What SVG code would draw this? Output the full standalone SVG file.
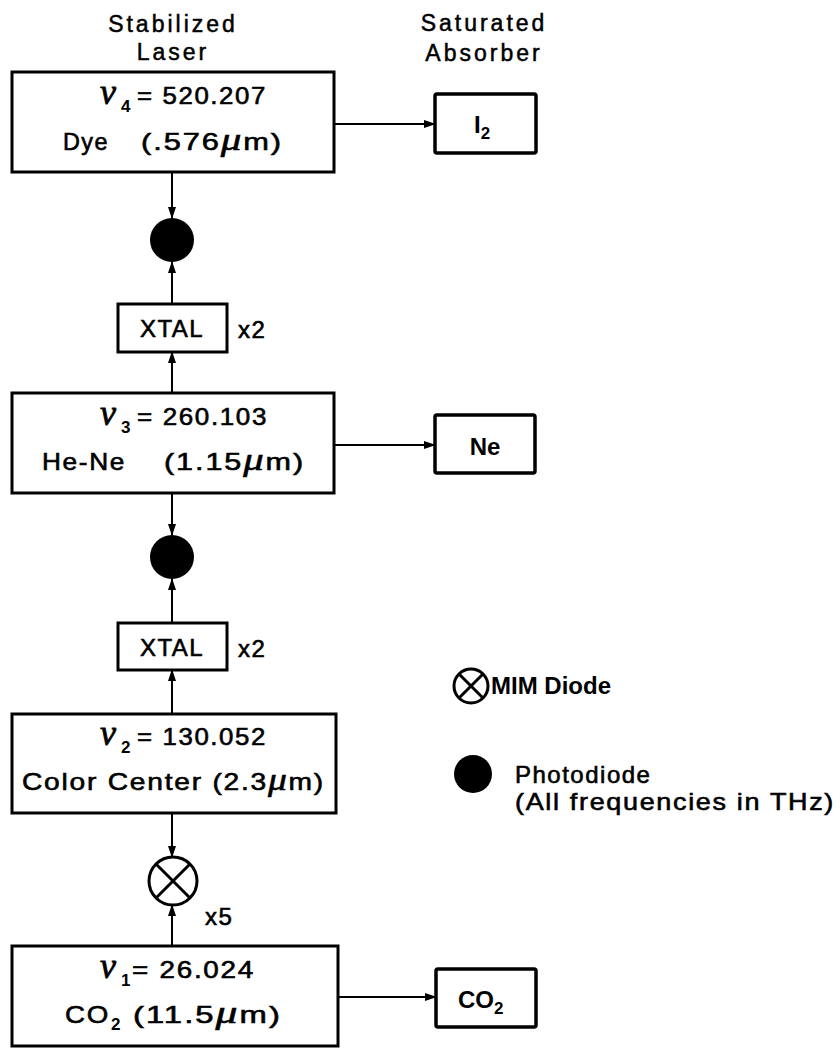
<svg xmlns="http://www.w3.org/2000/svg" width="840" height="1048" viewBox="0 0 840 1048">
<style>
  .t { font-family: "Liberation Sans", Arial, sans-serif; font-size: 24px; fill: #000; stroke: #000; stroke-width: 0.6px; letter-spacing: 1.5px; }
  .h { font-family: "Liberation Sans", Arial, sans-serif; font-size: 23px; fill: #000; stroke: #000; stroke-width: 0.5px; letter-spacing: 3px; }
  .b { font-family: "Liberation Sans", Arial, sans-serif; font-size: 24px; font-weight: bold; fill: #000; }
  .nu { font-family: "Liberation Serif", "Times New Roman", serif; font-style: italic; font-size: 36px; fill: #000; stroke: #000; stroke-width: 0.8px; }
  .sub { font-family: "Liberation Sans", Arial, sans-serif; font-size: 17px; font-weight: bold; fill: #000; }
  .mu { font-family: "Liberation Serif", "Times New Roman", serif; font-style: italic; font-size: 32px; }
  .box { fill: #fff; stroke: #000; stroke-width: 3; }
  .rbox { fill: #fff; stroke: #000; stroke-width: 3.5; }
  .ln { stroke: #000; stroke-width: 2; fill: none; }
  .pd { fill: #000; }
  .mim { fill: #fff; stroke: #000; stroke-width: 3; }
  .x { stroke: #000; stroke-width: 3; }
</style>
<defs>
  <marker id="ah" markerUnits="userSpaceOnUse" markerWidth="12" markerHeight="8" refX="11" refY="4" orient="auto">
    <path d="M0,0 L12,4 L0,8 Z" fill="#000"/>
  </marker>
</defs>

<g id="headers">
  <text class="h" x="173" y="32" text-anchor="middle">Stabilized</text>
  <text class="h" x="173" y="60" text-anchor="middle">Laser</text>
  <text class="h" x="484" y="31" text-anchor="middle">Saturated</text>
  <text class="h" x="484" y="61" text-anchor="middle">Absorber</text>
</g>

<g id="connectors">
  <line class="ln" x1="172" y1="172" x2="172" y2="218" marker-end="url(#ah)"/>
  <line class="ln" x1="172" y1="304" x2="172" y2="262" marker-end="url(#ah)"/>
  <line class="ln" x1="172" y1="393" x2="172" y2="352" marker-end="url(#ah)"/>
  <line class="ln" x1="172" y1="493" x2="172" y2="535" marker-end="url(#ah)"/>
  <line class="ln" x1="172" y1="623" x2="172" y2="579" marker-end="url(#ah)"/>
  <line class="ln" x1="172" y1="714" x2="172" y2="670" marker-end="url(#ah)"/>
  <line class="ln" x1="172" y1="813" x2="172" y2="857" marker-end="url(#ah)"/>
  <line class="ln" x1="172" y1="946" x2="172" y2="905" marker-end="url(#ah)"/>
  <line class="ln" x1="334" y1="124" x2="435" y2="124" marker-end="url(#ah)"/>
  <line class="ln" x1="334" y1="445" x2="435" y2="445" marker-end="url(#ah)"/>
  <line class="ln" x1="338" y1="997" x2="436" y2="997" marker-end="url(#ah)"/>
</g>

<g id="laser4">
  <rect class="box" x="12" y="72" width="322" height="100"/>
  <text class="nu" x="100" y="104">ν</text>
  <text class="sub" x="121" y="112">4</text>
  <text class="t" x="137" y="104" textLength="130" lengthAdjust="spacingAndGlyphs">= 520.207</text>
  <text class="t" x="63" y="150" textLength="46" lengthAdjust="spacingAndGlyphs">Dye</text>
  <text class="t" x="141" y="150" textLength="142" lengthAdjust="spacingAndGlyphs">(.576<tspan class="mu">μ</tspan>m)</text>
</g>

<g id="absorber-i2">
  <rect class="rbox" x="435" y="94" width="101" height="59" rx="2"/>
  <text class="b" x="474" y="133">I<tspan class="sub" dy="6">2</tspan></text>
</g>

<g id="photodiode1">
  <circle class="pd" cx="172" cy="240" r="22"/>
</g>

<g id="xtal1">
  <rect class="box" x="118" y="304" width="109" height="48"/>
  <text class="t" x="172" y="337" text-anchor="middle" letter-spacing="3">XTAL</text>
  <text class="t" x="238" y="338">x2</text>
</g>

<g id="laser3">
  <rect class="box" x="12" y="393" width="322" height="100"/>
  <text class="nu" x="100" y="425">ν</text>
  <text class="sub" x="121" y="433">3</text>
  <text class="t" x="137" y="425" textLength="131" lengthAdjust="spacingAndGlyphs">= 260.103</text>
  <text class="t" x="42" y="470" textLength="84" lengthAdjust="spacingAndGlyphs">He-Ne</text>
  <text class="t" x="164" y="470" textLength="141" lengthAdjust="spacingAndGlyphs">(1.15<tspan class="mu">μ</tspan>m)</text>
</g>

<g id="absorber-ne">
  <rect class="rbox" x="435" y="415" width="100" height="58" rx="2"/>
  <text class="b" x="485" y="455" text-anchor="middle">Ne</text>
</g>

<g id="photodiode2">
  <circle class="pd" cx="172" cy="557" r="22"/>
</g>

<g id="xtal2">
  <rect class="box" x="118" y="623" width="109" height="47"/>
  <text class="t" x="172" y="656" text-anchor="middle" letter-spacing="3">XTAL</text>
  <text class="t" x="238" y="657">x2</text>
</g>

<g id="laser2">
  <rect class="box" x="12" y="714" width="324" height="99"/>
  <text class="nu" x="100" y="745">ν</text>
  <text class="sub" x="121" y="753">2</text>
  <text class="t" x="137" y="745" textLength="130" lengthAdjust="spacingAndGlyphs">= 130.052</text>
  <text class="t" x="22" y="790" textLength="303" lengthAdjust="spacingAndGlyphs">Color Center (2.3<tspan class="mu">μ</tspan>m)</text>
</g>

<g id="mim">
  <circle class="mim" cx="173" cy="881" r="24"/>
  <line class="x" x1="156" y1="864" x2="190" y2="898"/>
  <line class="x" x1="190" y1="864" x2="156" y2="898"/>
  <text class="t" x="205" y="925">x5</text>
</g>

<g id="laser1">
  <rect class="box" x="12" y="946" width="326" height="100"/>
  <text class="nu" x="100" y="978">ν</text>
  <text class="sub" x="121" y="986">1</text>
  <text class="t" x="132" y="978" textLength="123" lengthAdjust="spacingAndGlyphs">= 26.024</text>
  <text class="t" x="65" y="1023" textLength="45" lengthAdjust="spacingAndGlyphs">CO</text>
  <text class="sub" x="111" y="1030">2</text>
  <text class="t" x="133" y="1023" textLength="149" lengthAdjust="spacingAndGlyphs">(11.5<tspan class="mu">μ</tspan>m)</text>
</g>

<g id="absorber-co2">
  <rect class="rbox" x="436" y="969" width="100" height="58" rx="2"/>
  <text class="b" x="458" y="1008">CO<tspan class="sub" dy="6">2</tspan></text>
</g>

<g id="legend">
  <circle class="mim" cx="471" cy="686" r="17" stroke-width="2.5"/>
  <line class="x" x1="459" y1="674" x2="483" y2="698" stroke-width="2.5"/>
  <line class="x" x1="483" y1="674" x2="459" y2="698" stroke-width="2.5"/>
  <text class="b" x="491" y="694" font-size="21">MIM Diode</text>
  <circle class="pd" cx="473" cy="774" r="19"/>
  <text class="t" x="515" y="783">Photodiode</text>
  <text class="t" x="515" y="810" textLength="320" lengthAdjust="spacingAndGlyphs">(All frequencies in THz)</text>
</g>
</svg>
